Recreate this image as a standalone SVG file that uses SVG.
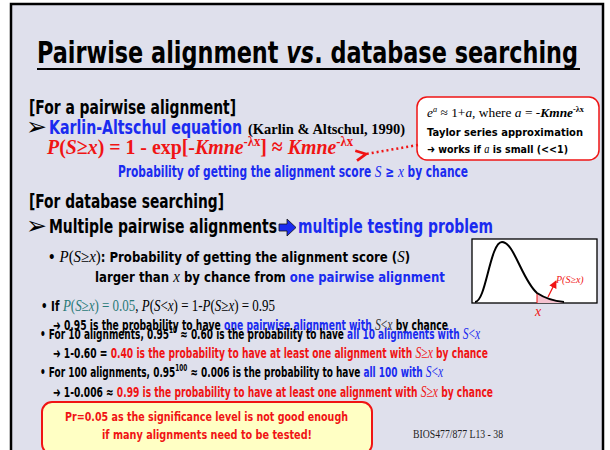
<svg xmlns="http://www.w3.org/2000/svg" width="610" height="450" viewBox="0 0 610 450">
<defs>
<style>
.c{font-family:"Liberation Sans Narrow","DejaVu Sans Condensed","Liberation Sans",sans-serif;font-weight:bold}
.t{font-family:"Liberation Serif","Times New Roman",serif}
.d{font-family:"DejaVu Sans",sans-serif}
.k{font-family:"DejaVu Sans","Liberation Sans",sans-serif;font-weight:bold}
.i{font-family:"Liberation Serif","Times New Roman",serif;font-style:italic;font-weight:normal}
.blue{fill:#1a2bf0}
.red{fill:#f01414}
.teal{fill:#2a7a78}
</style>
<marker id="ah" viewBox="0 0 10 10" refX="1" refY="5" markerWidth="5" markerHeight="5" orient="auto-start-reverse">
<path d="M9,1 L1,5 L9,9" fill="none" stroke="#f01414" stroke-width="2.2"/>
</marker>
<marker id="ah2" viewBox="0 0 10 10" refX="9" refY="5" markerWidth="6" markerHeight="6" orient="auto">
<path d="M0,0 L10,5 L0,10 z" fill="#f01414"/>
</marker>
</defs>
<rect x="0" y="0" width="610" height="450" fill="#ffffff"/>
<rect x="11" y="4" width="592" height="460" fill="#dfe0ec" stroke="#000" stroke-width="2.5"/>

<g id="title">
<text class="c" x="37" y="63" font-size="31" textLength="541" lengthAdjust="spacingAndGlyphs">Pairwise alignment <tspan font-style="italic">vs</tspan>. database searching</text>
<line x1="37" y1="69" x2="580" y2="69" stroke="#000" stroke-width="2"/>
</g>

<g id="pairwise">
<text class="c" x="29" y="114" font-size="19" textLength="207" lengthAdjust="spacingAndGlyphs">[For a pairwise alignment]</text>
<text class="d" x="26" y="135" font-size="25">➢</text>
<text class="c blue" x="49" y="134" font-size="19" textLength="193" lengthAdjust="spacingAndGlyphs">Karlin-Altschul equation</text>
<text class="t" x="248" y="134" font-size="14" font-weight="bold" textLength="157" lengthAdjust="spacingAndGlyphs">(Karlin &amp; Altschul, 1990)</text>
<text class="t red" x="47" y="154" font-size="22" font-weight="bold" textLength="306" lengthAdjust="spacingAndGlyphs"><tspan font-style="italic">P</tspan>(<tspan font-style="italic">S</tspan>≥<tspan font-style="italic">x</tspan>) = 1 - exp[-<tspan font-style="italic">Kmne</tspan><tspan font-size="14" dy="-8">-λx</tspan><tspan dy="8">] ≈ </tspan><tspan font-style="italic">Kmne</tspan><tspan font-size="14" dy="-8">-λx</tspan></text>
<text class="c blue" x="118" y="177" font-size="15" textLength="350" lengthAdjust="spacingAndGlyphs">Probability of getting the alignment score <tspan class="i" font-size="17">S</tspan> ≥ <tspan class="i" font-size="17">x</tspan> by chance</text>
</g>

<g id="callout">
<rect x="417" y="97" width="182" height="63" rx="10" fill="#fff" stroke="#f01414" stroke-width="1.5"/>
<text class="t" x="427" y="117" font-size="13" textLength="157" lengthAdjust="spacingAndGlyphs"><tspan font-style="italic">e</tspan><tspan font-style="italic" font-size="8" dy="-5">a</tspan><tspan dy="5"> ≈ 1+</tspan><tspan font-style="italic">a</tspan>, where <tspan font-style="italic">a</tspan> = -<tspan font-style="italic" font-weight="bold">Kmne</tspan><tspan font-size="8" font-weight="bold" dy="-5">-λx</tspan></text>
<text class="k" x="427" y="136" font-size="11" textLength="156" lengthAdjust="spacingAndGlyphs">Taylor series approximation</text>
<text class="k" x="427" y="153" font-size="11" textLength="141" lengthAdjust="spacingAndGlyphs">➜ works if <tspan class="i" font-size="12">a</tspan> is small (&lt;&lt;1)</text>
</g>

<g id="connectors">
<line x1="418" y1="145" x2="366" y2="154" stroke="#f01414" stroke-width="2.5" stroke-dasharray="2,3" marker-end="url(#ah)"/>
</g>

<g id="database">
<text class="c" x="29" y="208" font-size="19" textLength="195" lengthAdjust="spacingAndGlyphs">[For database searching]</text>
<text class="d" x="26" y="234" font-size="25">➢</text>
<text class="c" x="49" y="233" font-size="19" textLength="228" lengthAdjust="spacingAndGlyphs">Multiple pairwise alignments</text>
<path d="M279,224 L287,224 L287,219 L296,227.5 L287,236 L287,231 L279,231 z" fill="#1a2bf0" stroke="#111" stroke-width="0.8"/>
<text class="c blue" x="298" y="233" font-size="19" textLength="195" lengthAdjust="spacingAndGlyphs">multiple testing problem</text>
</g>

<g id="bullets">
<text class="c" x="48" y="262" font-size="14" textLength="362" lengthAdjust="spacingAndGlyphs">• <tspan class="i" font-size="16">P</tspan><tspan class="t" font-weight="normal" font-size="16">(</tspan><tspan class="i" font-size="16">S</tspan><tspan class="t" font-weight="normal" font-size="16">≥</tspan><tspan class="i" font-size="16">x</tspan><tspan class="t" font-weight="normal" font-size="16">)</tspan>: Probability of getting the alignment score (<tspan class="i" font-size="16">S</tspan>)</text>
<text class="c" x="95" y="282" font-size="14" textLength="350" lengthAdjust="spacingAndGlyphs">larger than <tspan class="i" font-size="16">x</tspan> by chance from <tspan class="blue">one pairwise alignment</tspan></text>

<text class="c" x="41" y="311" font-size="14" textLength="234" lengthAdjust="spacingAndGlyphs">• If <tspan class="t teal" font-size="16" font-weight="normal"><tspan font-style="italic">P</tspan>(<tspan font-style="italic">S</tspan>≥<tspan font-style="italic">x</tspan>) = 0.05</tspan><tspan class="t" font-size="16" font-weight="normal">, <tspan font-style="italic">P</tspan>(<tspan font-style="italic">S</tspan>&lt;<tspan font-style="italic">x</tspan>) = 1-<tspan font-style="italic">P</tspan>(<tspan font-style="italic">S</tspan>≥<tspan font-style="italic">x</tspan>) = 0.95</tspan></text>
<text class="c" x="53" y="330" font-size="14" textLength="395" lengthAdjust="spacingAndGlyphs">➜ 0.95 is the probability to have <tspan class="blue">one pairwise alignment with </tspan><tspan class="i" font-size="16" fill="#333">S</tspan><tspan class="t" font-weight="normal" font-size="16" fill="#333">&lt;</tspan><tspan class="i" font-size="16" fill="#333">x</tspan> by chance</text>
<text class="c" x="40" y="339" font-size="14" textLength="440" lengthAdjust="spacingAndGlyphs">• For 10 alignments, 0.95<tspan font-size="9" dy="-6">10</tspan><tspan dy="6"> ≈ 0.60 is the probability to have </tspan><tspan class="blue">all 10 alignments with </tspan><tspan class="i blue" font-size="16">S</tspan><tspan class="t blue" font-weight="normal" font-size="16">&lt;</tspan><tspan class="i blue" font-size="16">x</tspan></text>
<text class="c" x="53" y="358" font-size="14" textLength="435" lengthAdjust="spacingAndGlyphs">➜ 1-0.60 = <tspan class="red">0.40 is the probability to have at least one alignment with </tspan><tspan class="i red" font-size="16">S</tspan><tspan class="t red" font-weight="normal" font-size="16">≥</tspan><tspan class="i red" font-size="16">x</tspan><tspan class="red"> by chance</tspan></text>
<text class="c" x="40" y="377" font-size="14" textLength="403" lengthAdjust="spacingAndGlyphs">• For 100 alignments, 0.95<tspan font-size="9" dy="-6">100</tspan><tspan dy="6"> ≈ 0.006 is the probability to have </tspan><tspan class="blue">all 100 with </tspan><tspan class="i blue" font-size="16">S</tspan><tspan class="t blue" font-weight="normal" font-size="16">&lt;</tspan><tspan class="i blue" font-size="16">x</tspan></text>
<text class="c" x="53" y="397" font-size="14" textLength="440" lengthAdjust="spacingAndGlyphs">➜ 1-0.006 ≈ <tspan class="red">0.99 is the probability to have at least one alignment with </tspan><tspan class="i red" font-size="16">S</tspan><tspan class="t red" font-weight="normal" font-size="16">≥</tspan><tspan class="i red" font-size="16">x</tspan><tspan class="red"> by chance</tspan></text>
</g>

<g id="graph">
<rect x="472" y="239" width="125" height="64" fill="#fff" stroke="#000" stroke-width="1.3"/>
<path d="M537,303 L537,293 C545,297 553,300 563,302 L563,303 z" fill="#f5c2cf" stroke="none"/>
<line x1="537" y1="303" x2="537" y2="293" stroke="#f01414" stroke-width="1"/>
<path d="M475,302 C486,302 490,242 502,242 C514,242 522,280 537,293 C546,299 554,301 564,302" fill="none" stroke="#000" stroke-width="2"/>
<line x1="548" y1="297" x2="556" y2="281" stroke="#f01414" stroke-width="1.3" marker-end="url(#ah2)"/>
<text class="i red" x="556" y="283" font-size="10">P(S≥x)</text>
<text class="i red" x="535" y="316" font-size="14">x</text>
</g>

<g id="note">
<rect x="42" y="402" width="330" height="52" rx="10" fill="#ffffc4" stroke="#f01414" stroke-width="2"/>
<text class="k red" x="65" y="421" font-size="12.5" textLength="283" lengthAdjust="spacingAndGlyphs">Pr=0.05 as the significance level is not good enough</text>
<text class="k red" x="102" y="439" font-size="12.5" textLength="210" lengthAdjust="spacingAndGlyphs">if many alignments need to be tested!</text>
</g>

<text class="t" x="413" y="438" font-size="11.5" fill="#222" textLength="90" lengthAdjust="spacingAndGlyphs">BIOS477/877 L13 - 38</text>
</svg>
